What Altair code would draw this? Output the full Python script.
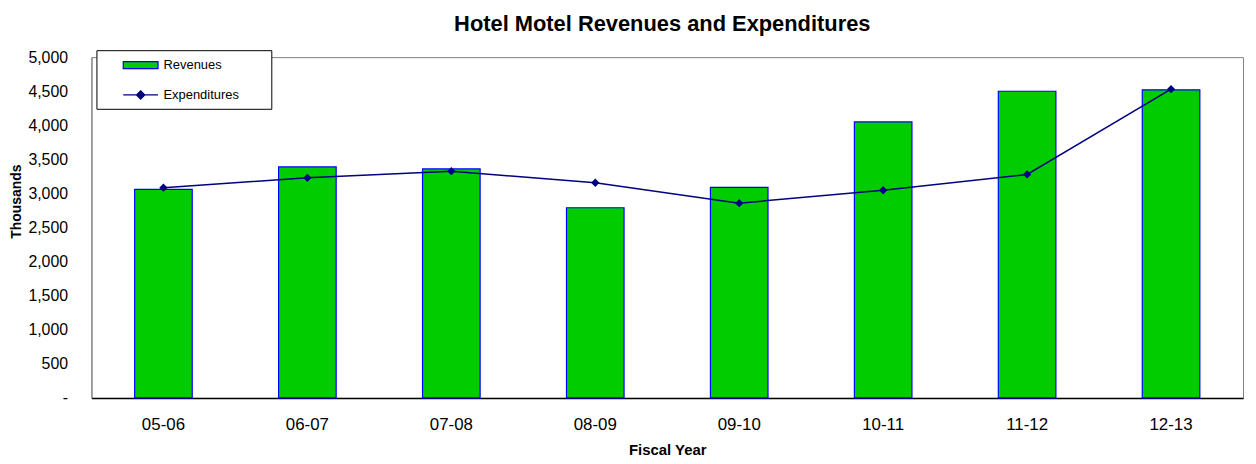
import altair as alt
import pandas as pd

years = ["05-06", "06-07", "07-08", "08-09", "09-10", "10-11", "11-12", "12-13"]
revenues = [3060, 3390, 3360, 2790, 3090, 4050, 4500, 4520]
expenditures = [3085, 3230, 3327, 3157, 2858, 3047, 3279, 4530]
series_names = ["Revenues", "Expenditures"]
series_fill = ["#00CC00", "#000080"]
series_stroke = ["#0000FF", "#000080"]
y_ticks = [0, 500, 1000, 1500, 2000, 2500, 3000, 3500, 4000, 4500, 5000]

df = pd.DataFrame({"year": years, "rev": revenues, "exp": expenditures})
legend_df = pd.DataFrame({"series": series_names})

FONT = "Liberation Sans"

x_enc = alt.X(
    "year:N",
    sort=years,
    scale=alt.Scale(paddingInner=0.6, paddingOuter=0.3),
    axis=alt.Axis(
        labelAngle=0, ticks=False, tickSize=0, domainColor="black", domainWidth=1.5,
        labelFontSize=17, labelColor="black", labelPadding=32, labelBaseline="alphabetic",
        title="Fiscal Year", titleFontSize=15, titleFontWeight="bold", titleColor="black",
        titleBaseline="alphabetic", titleY=57,
    ),
)
y_axis = alt.Axis(
    values=y_ticks, labelExpr="datum.value == 0 ? '-' : format(datum.value, ',')",
    ticks=False, tickSize=0, labelPadding=24, domainColor="#808080", grid=False,
    labelFontSize=16, labelColor="black",
    title="Thousands", titleFontSize=14, titleFontWeight="bold", titleColor="black",
    titleX=-75, titleY=145, titleAngle=270, titleAlign="center", titleBaseline="middle",
)
y_scale = alt.Scale(domain=[0, 5000], nice=False)

bars = alt.Chart(df).mark_bar(fill="#00CC00", stroke="#0000FF", strokeWidth=1.2).encode(
    x=x_enc, y=alt.Y("rev:Q", scale=y_scale, axis=y_axis)
)

line = alt.Chart(df).mark_line(
    color="#000080", strokeWidth=1.5,
    point=alt.OverlayMarkDef(shape="diamond", size=70, filled=True, color="#000080"),
).encode(x=x_enc, y=alt.Y("exp:Q", scale=y_scale, axis=y_axis))

legend = alt.Legend(
    title=None, orient="none", legendX=5, legendY=-7, direction="vertical",
    strokeColor="black", fillColor="white", cornerRadius=0, padding=7, rowPadding=15,
    symbolSize=196, symbolOffset=29.5, labelOffset=15, labelFontSize=13, labelColor="black",
    symbolOpacity=1, symbolStrokeWidth=1.2,
)
shape_paths = ["M-2.5,-0.5H2.5V0.5H-2.5ZM17.4,0", "M-2.5,0H2.5M0,-0.6L0.6,0L0,0.6L-0.6,0Z"]

legend_layer = alt.Chart(legend_df).mark_point(filled=True, opacity=0).encode(
    shape=alt.Shape("series:N", scale=alt.Scale(domain=series_names, range=shape_paths), legend=legend),
    fill=alt.Fill("series:N", scale=alt.Scale(domain=series_names, range=series_fill), legend=legend),
    stroke=alt.Stroke("series:N", scale=alt.Scale(domain=series_names, range=series_stroke), legend=legend),
)

chart = alt.layer(bars, line, legend_layer).properties(
    width=1159,
    height=343,
    autosize=alt.AutoSizeParams(type="none"),
    padding={"left": 84, "top": 48, "right": 5, "bottom": 61},
    title=alt.Title(
        "Hotel Motel Revenues and Expenditures", fontSize=22, fontWeight="bold",
        anchor="middle", frame="group", baseline="alphabetic", offset=22, dy=26, dx=-5, color="black",
    ),
).configure(font=FONT).configure_view(stroke="#808080", strokeWidth=1)

chart.save("out.html", embed_options={"renderer": "svg", "actions": False})
